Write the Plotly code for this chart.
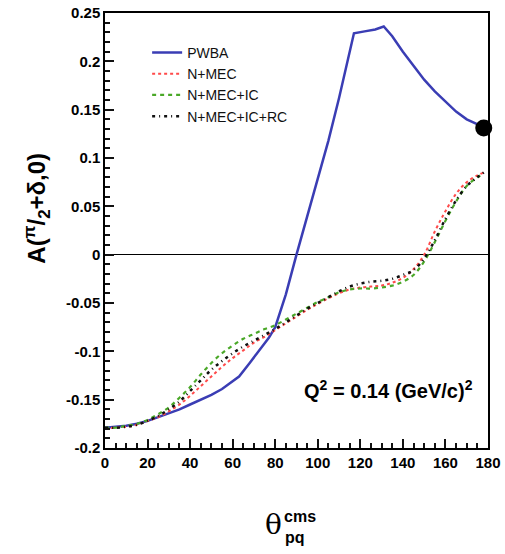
import plotly.graph_objects as go

# ---- data ----
x_pwba = [0, 5, 10, 15, 20, 25, 30, 35, 40, 45, 50, 55, 60, 63, 68, 73, 77, 80, 85, 90,
          95, 100, 105, 110, 114, 117, 122, 127, 131, 135, 140, 145, 150, 155, 160, 165,
          170, 175, 178]
y_pwba = [-0.179, -0.178, -0.177, -0.175, -0.172, -0.168, -0.164, -0.160, -0.155, -0.150,
          -0.145, -0.139, -0.131, -0.126, -0.112, -0.098, -0.086, -0.075, -0.041, 0.0,
          0.039, 0.078, 0.118, 0.162, 0.200, 0.229, 0.231, 0.233, 0.236, 0.226, 0.210,
          0.195, 0.181, 0.169, 0.158, 0.148, 0.140, 0.135, 0.132]

x_th = [0, 5, 10, 15, 20, 25, 30, 35, 40, 45, 50, 55, 60, 65, 70, 75, 80, 85, 90, 95,
        100, 105, 110, 115, 120, 125, 130, 135, 140, 145, 150, 155, 160, 165, 170, 175, 178]
y_nmec = [-0.180, -0.179, -0.178, -0.176, -0.172, -0.168, -0.162, -0.155, -0.146, -0.136,
          -0.126, -0.116, -0.107, -0.099, -0.091, -0.085, -0.078, -0.071, -0.064, -0.057,
          -0.051, -0.045, -0.040, -0.036, -0.034, -0.033, -0.032, -0.029, -0.024, -0.015,
          0.000, 0.024, 0.045, 0.063, 0.075, 0.082, 0.085]
y_nmec_ic = [-0.179, -0.179, -0.177, -0.175, -0.171, -0.165, -0.158, -0.148, -0.137, -0.124,
             -0.112, -0.102, -0.094, -0.087, -0.082, -0.077, -0.073, -0.067, -0.061, -0.055,
             -0.049, -0.044, -0.039, -0.036, -0.035, -0.035, -0.034, -0.032, -0.028, -0.021,
             -0.007, 0.013, 0.035, 0.055, 0.071, 0.080, 0.084]
y_nmec_ic_rc = [-0.179, -0.179, -0.178, -0.176, -0.172, -0.167, -0.160, -0.152, -0.141, -0.130,
                -0.119, -0.110, -0.102, -0.095, -0.089, -0.083, -0.077, -0.070, -0.063, -0.056,
                -0.050, -0.044, -0.038, -0.033, -0.030, -0.028, -0.027, -0.025, -0.021, -0.016,
                -0.004, 0.015, 0.037, 0.056, 0.071, 0.080, 0.085]

x_data = [178]
y_data = [0.131]

y_label_alias = {"−0.2": "-0.2", "−0.15": "-0.15", "−0.1": "-0.1", "−0.05": "-0.05"}

FONT = "Liberation Sans, Arial, Helvetica, sans-serif"

fig = go.Figure()
fig.add_trace(go.Scatter(x=x_pwba, y=y_pwba, mode="lines", name="PWBA",
                         line=dict(color="#3a3db4", width=2.5)))
fig.add_trace(go.Scatter(x=x_th, y=y_nmec, mode="lines", name="N+MEC",
                         line=dict(color="#ff4a4a", width=2, dash="dot", shape="spline")))
fig.add_trace(go.Scatter(x=x_th, y=y_nmec_ic, mode="lines", name="N+MEC+IC",
                         line=dict(color="#4aa828", width=2.2, dash="4px,4px", shape="spline")))
fig.add_trace(go.Scatter(x=x_th, y=y_nmec_ic_rc, mode="lines", name="N+MEC+IC+RC",
                         line=dict(color="#111111", width=2.5, dash="3px,4px,1px,4px", shape="spline")))
fig.add_trace(go.Scatter(x=x_data, y=y_data, mode="markers", showlegend=False,
                         marker=dict(color="black", size=17), cliponaxis=False))

fig.update_layout(
    template="none",
    width=505, height=554,
    margin=dict(l=105, r=17, t=13, b=106, autoexpand=False),
    paper_bgcolor="white", plot_bgcolor="white",
    font=dict(family=FONT, color="black"),
    showlegend=True,
    legend=dict(x=0.11, y=0.945, xanchor="left", yanchor="top",
                bgcolor="rgba(0,0,0,0)", borderwidth=0, tracegroupgap=0,
                itemwidth=30,
                font=dict(size=14, family=FONT, color="#111")),
)

fig.update_xaxes(
    range=[0, 180], showgrid=False, zeroline=False, automargin=False,
    showline=True, linecolor="black", linewidth=1.5, mirror=True,
    tickmode="linear", tick0=0, dtick=20,
    ticks="inside", ticklen=9, tickwidth=2, tickcolor="#111",
    tickfont=dict(size=15, family=FONT, weight="bold", color="black"),
    minor=dict(tickmode="linear", tick0=0, dtick=5, ticks="inside", ticklen=5,
               tickwidth=1.6, tickcolor="#111", showgrid=False),
)
fig.update_yaxes(
    range=[-0.2, 0.25], showgrid=False, automargin=False,
    zeroline=True, zerolinecolor="black", zerolinewidth=1.2,
    showline=True, linecolor="black", linewidth=1.5, mirror=True,
    tickmode="linear", tick0=0, dtick=0.05, labelalias=y_label_alias,
    ticks="inside", ticklen=9, tickwidth=2, tickcolor="#111",
    tickfont=dict(size=15, family=FONT, weight="bold", color="black"),
    minor=dict(tickmode="linear", tick0=0, dtick=0.01, ticks="inside", ticklen=5,
               tickwidth=1.6, tickcolor="#111", showgrid=False),
)

fig.add_annotation(x=174, y=-0.139, xref="x", yref="y", xanchor="right", yanchor="middle",
                   text="<b>Q<sup>2</sup> = 0.14 (GeV/c)<sup>2</sup></b>", showarrow=False,
                   font=dict(size=20, family=FONT, color="black"))
fig.add_annotation(x=-0.178, y=0.552, xref="paper", yref="paper", xanchor="center", yanchor="middle",
                   text="<b>A(<sup>π</sup>/<sub>2</sub>+δ,0)</b>", textangle=-90, showarrow=False,
                   font=dict(size=24, family=FONT, color="black"))
fig.add_annotation(x=0.441, y=-0.175, xref="paper", yref="paper", xanchor="center", yanchor="middle",
                   text="θ", showarrow=False,
                   font=dict(size=28, family="DejaVu Serif, serif", color="black"))
fig.add_annotation(x=0.463, y=-0.158, xref="paper", yref="paper", xanchor="left", yanchor="middle",
                   text="<b>cms</b>", showarrow=False,
                   font=dict(size=16, family=FONT, color="black"))
fig.add_annotation(x=0.465, y=-0.205, xref="paper", yref="paper", xanchor="left", yanchor="middle",
                   text="<b>pq</b>", showarrow=False,
                   font=dict(size=16, family=FONT, color="black"))

fig.write_html("out.html")
